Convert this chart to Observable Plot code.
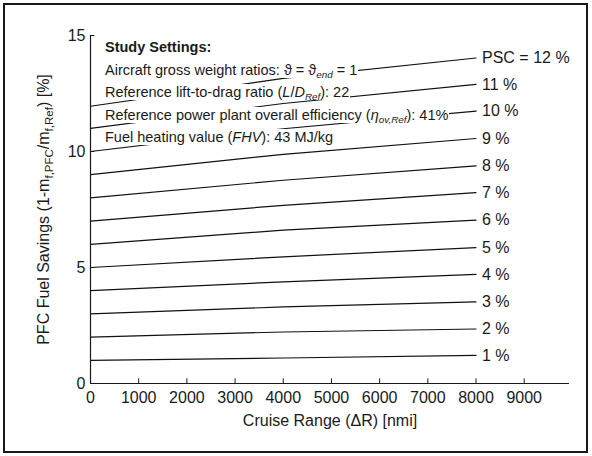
<!DOCTYPE html>
<html><head><meta charset="utf-8">
<script src="https://cdn.jsdelivr.net/npm/d3@7"></script>
<script src="https://cdn.jsdelivr.net/npm/@observablehq/plot@0.6"></script>
<style>
body{margin:0;background:#fff;}
#wrap{position:relative;width:592px;height:456px;overflow:hidden;font-family:"Liberation Sans",Arial,sans-serif;color:#1a1a1a;background:#fff;}
#frame{position:absolute;left:3px;top:3px;width:581px;height:446px;border:2.5px solid #1a1a1a;pointer-events:none;}
.row{position:absolute;left:104px;height:16px;line-height:16px;background:#fff;font-size:14.5px;white-space:nowrap;padding:0 1px;}
.row sub{font-size:0.68em;vertical-align:-0.3em;line-height:0;}
</style></head>
<body>
<div id="wrap"></div>
<script>
// ---- data ----
const psc = [1, 2, 3, 4, 5, 6, 7, 8, 9, 10, 11, 12];
const rangeNmi = [0, 4000, 8000];
const savingsAt0    = [1.00, 2.00, 3.00, 4.00, 5.00, 6.00, 7.00, 8.00, 9.00, 10.00, 11.00, 11.95];
const savingsAt4000 = [1.10, 2.22, 3.30, 4.38, 5.46, 6.61, 7.68, 8.76, 9.88, 10.98, 12.07, 13.15];
const savingsAt8000 = [1.21, 2.35, 3.52, 4.70, 5.86, 7.04, 8.23, 9.38, 10.56, 11.74, 12.89, 14.03];
const curveLabels = ["1 %", "2 %", "3 %", "4 %", "5 %", "6 %", "7 %", "8 %", "9 %", "10 %", "11 %", "PSC = 12 %"];
const xTicks = [0, 1000, 2000, 3000, 4000, 5000, 6000, 7000, 8000, 9000];
const yTicks = [0, 5, 10, 15];
const xTitle = "Cruise Range (\u0394R) [nmi]";
const settingsRows = [
  "<b>Study Settings:</b>",
  "Aircraft gross weight ratios: \u03d1 = \u03d1<sub><i>end</i></sub> = 1",
  "Reference lift-to-drag ratio (<i>L</i>/<i>D</i><sub><i>Ref</i></sub>): 22",
  "Reference power plant overall efficiency (<i>\u03b7</i><sub><i>ov,Ref</i></sub>): 41%",
  "Fuel heating value (<i>FHV</i>): 43 MJ/kg"
];

// ---- build tables ----
const lineData = [];
psc.forEach((p, i) => {
  const vals = [savingsAt0[i], savingsAt4000[i], savingsAt8000[i]];
  rangeNmi.forEach((r, j) => lineData.push({psc: p, range: r, saving: vals[j]}));
});
const endData = psc.map((p, i) => ({range: rangeNmi[rangeNmi.length - 1], saving: savingsAt8000[i], label: curveLabels[i]}));

const font = '"Liberation Sans", Arial, sans-serif';
const ink = "#1a1a1a";

const plot = Plot.plot({
  width: 592, height: 456,
  marginLeft: 90, marginRight: 23, marginTop: 35, marginBottom: 73,
  style: {fontFamily: font, fontSize: "16px", color: ink, background: "transparent", overflow: "visible"},
  x: {domain: [0, 9940]},
  y: {domain: [0, 15]},
  marks: [
    Plot.line(lineData, {x: "range", y: "saving", z: "psc", stroke: "#111", strokeWidth: 1.2}),
    Plot.text(endData, {x: "range", y: "saving", text: "label", textAnchor: "start", dx: 6, fontSize: 16, fill: ink}),
    Plot.ruleX([0], {stroke: ink, strokeWidth: 1.2}),
    Plot.ruleY([0], {stroke: ink, strokeWidth: 1.2}),
    Plot.ruleX(xTicks.slice(1), {x: d => d, y1: 0, y2: 0.2, stroke: ink}),
    Plot.ruleY(yTicks.slice(1), {y: d => d, x1: 0, x2: 90, stroke: ink}),
    Plot.axisX(xTicks, {tickSize: 0, tickPadding: 8, fontSize: 16, label: null, tickFormat: d => String(d)}),
    Plot.axisY(yTicks, {tickSize: 0, tickPadding: 5, fontSize: 16, label: null, tickFormat: d => String(d)}),
    Plot.text([xTitle], {frameAnchor: "bottom", dy: 37, lineAnchor: "middle", textAnchor: "middle", fontSize: 16, fill: ink}),
    Plot.text(["YLABEL"], {frameAnchor: "left", dx: -47, rotate: -90, lineAnchor: "middle", textAnchor: "middle", fontSize: 16, fill: ink})
  ]
});

const wrap = document.getElementById("wrap");
wrap.appendChild(plot);

// y title with subscripts
d3.select(plot).selectAll("text").filter(function() { return this.textContent === "YLABEL"; }).each(function() {
  const t = d3.select(this);
  t.attr("text-anchor", "middle");
  t.text(null);
  t.append("tspan").text("PFC Fuel Savings (1-m");
  t.append("tspan").attr("dy", 4).attr("font-size", 11.5).text("f,PFC");
  t.append("tspan").attr("dy", -4).text("/m");
  t.append("tspan").attr("dy", 4).attr("font-size", 11.5).text("f,Ref");
  t.append("tspan").attr("dy", -4).text(") [%]");
});

// study settings box rows (white background, like the original)
const rowCenters = [47, 69.5, 92, 114.5, 137];
settingsRows.forEach((html, i) => {
  const d = document.createElement("div");
  d.className = "row";
  d.style.top = (rowCenters[i] - 8) + "px";
  d.innerHTML = html;
  wrap.appendChild(d);
});

const fr = document.createElement("div");
fr.id = "frame";
wrap.appendChild(fr);
</script>
</body></html>
